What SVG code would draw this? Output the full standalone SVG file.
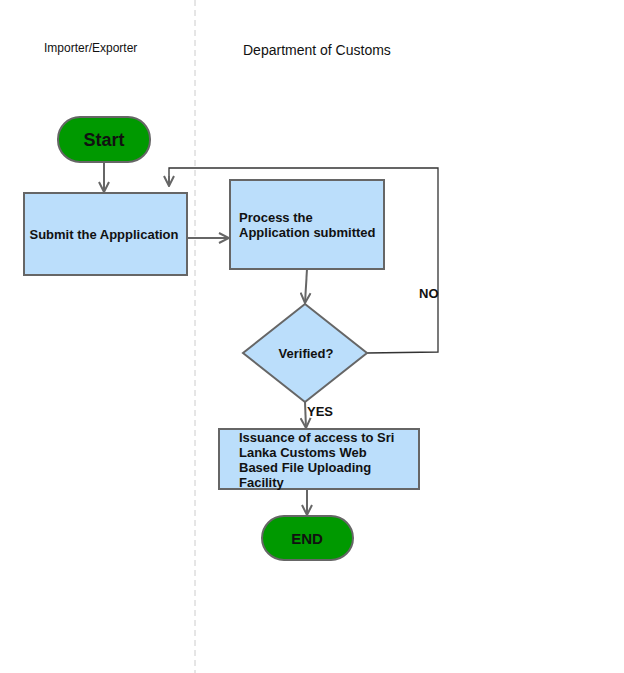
<svg xmlns="http://www.w3.org/2000/svg" width="624" height="673" viewBox="0 0 624 673">
<defs>
<style>
.t{font-family:"Liberation Sans",Arial,sans-serif;font-weight:bold;fill:#111}
.n{font-family:"Liberation Sans",Arial,sans-serif;fill:#111}
.box{fill:#bbdefb;stroke:#666;stroke-width:2}
.term{fill:#009900;stroke:#666;stroke-width:2}
.c{fill:none;stroke:#666;stroke-width:2}
</style>
<marker id="arr" viewBox="0 0 12 12" refX="11" refY="6" markerWidth="12" markerHeight="12" markerUnits="userSpaceOnUse" orient="auto">
<path d="M1,1 L11,6 L1,11" fill="none" stroke="#666" stroke-width="2"/>
</marker>
</defs>
<rect width="624" height="673" fill="#fff"/>
<line x1="195" y1="0" x2="195" y2="673" stroke="#ccc" stroke-width="1" stroke-dasharray="6,4"/>
<text class="n" x="44" y="52" font-size="12">Importer/Exporter</text>
<text class="n" x="243" y="55" font-size="14">Department of Customs</text>
<g id="connectors">
<line class="c" x1="104" y1="162" x2="104" y2="192" marker-end="url(#arr)"/>
<line class="c" x1="187" y1="238" x2="229" y2="238" marker-end="url(#arr)"/>
<line class="c" x1="307" y1="269" x2="305" y2="303" marker-end="url(#arr)"/>
<polyline fill="none" stroke="#333" stroke-width="1.3" points="367,353 438,352 438,168 169,168 169,178"/>
<line class="c" x1="169" y1="176" x2="169" y2="186" marker-end="url(#arr)"/>
<line class="c" x1="305" y1="402" x2="306" y2="428" marker-end="url(#arr)"/>
<line class="c" x1="307" y1="489" x2="307" y2="515" marker-end="url(#arr)"/>
<text class="t" x="419" y="298" font-size="13">NO</text>
<text class="t" x="307" y="416" font-size="13">YES</text>
</g>
<g id="start">
<rect class="term" x="58" y="117" width="92" height="45" rx="22"/>
<text class="t" x="104" y="146" font-size="18" text-anchor="middle">Start</text>
</g>
<g id="submit">
<rect class="box" x="24" y="193" width="163" height="82"/>
<text class="t" x="104" y="239" font-size="13" text-anchor="middle">Submit the Appplication</text>
</g>
<g id="process">
<rect class="box" x="230" y="180" width="154" height="89"/>
<text class="t" x="239" y="222" font-size="13">Process the</text>
<text class="t" x="239" y="237" font-size="13">Application submitted</text>
</g>
<g id="verified">
<polygon class="box" points="305,304 367,353 305,402 243,353"/>
<text class="t" x="306" y="358" font-size="13" text-anchor="middle">Verified?</text>
</g>
<g id="issuance">
<rect class="box" x="219" y="429" width="200" height="60"/>
<text class="t" x="239" y="442" font-size="13">Issuance of access to Sri</text>
<text class="t" x="239" y="457" font-size="13">Lanka Customs Web</text>
<text class="t" x="239" y="472" font-size="13">Based File Uploading</text>
<text class="t" x="239" y="487" font-size="13">Facility</text>
</g>
<g id="end">
<rect class="term" x="262" y="516" width="91" height="44" rx="22"/>
<text class="t" x="307" y="544" font-size="15" text-anchor="middle">END</text>
</g>
</svg>
